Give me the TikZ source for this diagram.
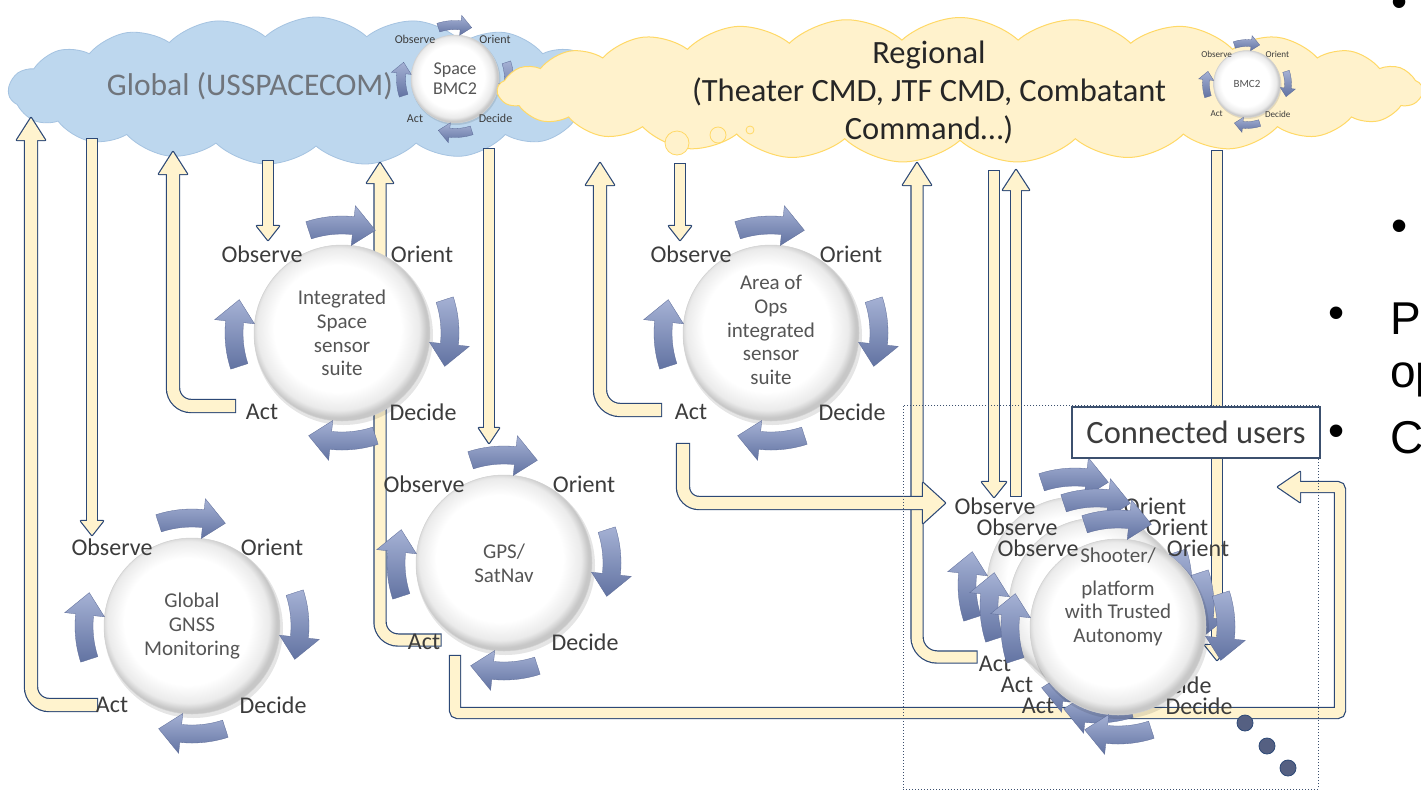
\documentclass[tikz,border=0pt]{standalone}
\usepackage{fontspec}
\setmainfont{Carlito}
\newfontfamily\arialfont{Liberation Sans}
\usetikzlibrary{shapes.symbols,calc}
\definecolor{cloudblue}{RGB}{189,215,238}
\definecolor{cloudblueedge}{RGB}{165,195,225}
\definecolor{cloudyel}{RGB}{255,242,204}
\definecolor{cloudyeledge}{RGB}{255,217,102}
\definecolor{cream}{RGB}{255,243,206}
\definecolor{navy}{RGB}{44,72,118}
\definecolor{arrL}{RGB}{165,177,212}
\definecolor{arrD}{RGB}{98,115,162}
\definecolor{arrE}{RGB}{90,105,150}
\definecolor{labelc}{RGB}{60,60,60}
\definecolor{centc}{RGB}{85,85,85}
\definecolor{globalc}{RGB}{112,117,124}
\definecolor{boxc}{RGB}{60,80,110}
\definecolor{dotc}{RGB}{85,96,130}
\pgfdeclareradialshading{ballw}{\pgfpoint{-2bp}{2bp}}{color(0bp)=(white); color(18bp)=(white); color(23bp)=(black!8); color(25bp)=(black!22); color(50bp)=(black!22)}

% curved OODA arrow around centre direction #1 (canvas degrees)
\newcommand\oarrow[1]{%
  \pgfmathsetmacro\aA{#1+18}%
  \pgfmathsetmacro\aB{#1-6}%
  \pgfmathsetmacro\aT{#1-18}%
  \shadedraw[top color=arrL, bottom color=arrD, draw=arrE, line width=0.3pt]
    (\aA:117pt) arc[start angle=\aA, end angle=\aB, radius=117pt]
    -- (\aB:128pt) -- (\aT:108pt) -- (\aB:88pt) -- (\aB:99pt)
    arc[start angle=\aB, end angle=\aA, radius=99pt] -- cycle;}

% loop graphics: x, y, scale
\newcommand\oodagfx[3]{%
  \begin{scope}[shift={(#1,#2)}, scale=#3]
    \fill[black, opacity=0.10] (1.5pt,-2.5pt) circle[radius=89.5pt];
    \shade[shading=ballw] (0,0) circle[radius=88pt];
    \draw[black!18, line width=0.5pt] (0,0) circle[radius=88pt];
    \foreach \c in {90,0,-90,180}{\oarrow{\c}}
  \end{scope}}

% loop labels: name, x, y, scale, centre text, centre font size, centre y offset
\newcommand\oodalbl[7]{%
  \begin{scope}[shift={(#2,#3)}, scale=#4]
    \pgfmathsetmacro\lfs{24*#4}%
    \pgfmathsetmacro\cbs{#6*1.13}%
    \node[lbl, font=\fontsize{\lfs}{\lfs}\selectfont] (#1-o) at (-80,-79) {Observe};
    \node[lbl, font=\fontsize{\lfs}{\lfs}\selectfont] (#1-r) at (80,-79) {Orient};
    \node[lbl, font=\fontsize{\lfs}{\lfs}\selectfont] (#1-a) at (-80,79) {Act};
    \node[lbl, font=\fontsize{\lfs}{\lfs}\selectfont] (#1-d) at (81,79) {Decide};
    \node[ctext, font=\fontsize{#6}{\cbs}\selectfont] (#1-c) at (0,#7) {#5};
  \end{scope}}

% block connector: path start, tip, direction angle, shaft width, head half width, head length, corner radius
\newcommand\barrow[7]{%
  \pgfmathsetmacro\bang{#3+180}%
  \pgfmathsetmacro\angp{#3+90}%
  \pgfmathsetmacro\angm{#3-90}%
  \pgfmathsetmacro\blen{#6-2}%
  \pgfmathsetmacro\owid{#4+2.4}%
  \pgfmathsetmacro\oshort{#4/2+1.2}%
  \pgfmathsetmacro\ishort{#4/2}%
  \coordinate (ht) at #2;
  \coordinate (hb) at ($(ht)+(\bang:\blen pt)$);
  \coordinate (h1) at ($(ht)+(\bang:#6pt)+(\angp:#5pt)$);
  \coordinate (h2) at ($(ht)+(\bang:#6pt)+(\angm:#5pt)$);
  \draw[navy, line width=\owid pt, line cap=rect, rounded corners=#7pt, shorten >=\oshort pt] #1 -- (hb);
  \filldraw[navy, line width=2.4pt, line join=round] (ht) -- (h1) -- (h2) -- cycle;
  \draw[cream, line width=#4pt, line cap=rect, rounded corners=#7pt, shorten >=\ishort pt] #1 -- (hb);
  \fill[cream] (ht) -- (h1) -- (h2) -- cycle;}

\begin{document}
\begin{tikzpicture}[x=1pt, y=-1pt,
  lbl/.style={text=labelc, inner sep=0pt},
  ctext/.style={align=center, text=centc, inner sep=0pt},
  bubble/.style={circle, draw=cloudyeledge, fill=cloudyel, line width=0.8pt, inner sep=0pt},
  bullet/.style={font=\arialfont\fontsize{46}{50}\selectfont, inner sep=0pt, text=black},
  sidetext/.style={font=\arialfont\fontsize{46}{50}\selectfont, inner sep=0pt, anchor=base west, text=black},
  dotn/.style={circle, fill=dotc, draw=navy, line width=0.8pt, minimum size=16pt, inner sep=0pt}]
\useasboundingbox (0,0) rectangle (1421,793);
\clip (0,0) rectangle (1421,793);
\fill[white] (0,0) rectangle (1421,793);

% global cloud
\node[cloud, cloud puffs=19, cloud puff arc=85, aspect=4.1, minimum width=615pt, minimum height=148pt,
      inner sep=0pt, fill=cloudblue, draw=cloudblueedge, line width=0.8pt] (globalcloud) at (316,91) {};
\node[text=globalc, font=\fontsize{31.5}{36}\selectfont, inner sep=0pt] (globaltxt) at (250,86) {Global (USSPACECOM)};
\oodagfx{455}{79}{0.5}

% regional cloud
\node[cloud, cloud puffs=25, cloud puff arc=85, aspect=6.4, minimum width=925pt, minimum height=145pt,
      inner sep=0pt, fill=cloudyel, draw=cloudyeledge, line width=1pt] (regcloud) at (960,90) {};
\node[bubble, minimum size=24pt] (bub1) at (677,143) {};
\node[bubble, minimum size=16pt] (bub2) at (718,135) {};
\node[bubble, minimum size=8pt] (bub3) at (750,130) {};
\node[align=center, text=black!85, font=\fontsize{32.5}{38}\selectfont, inner sep=0pt] (regtxt) at (929,92)
  {Regional\\(Theater CMD, JTF CMD, Combatant\\Command…)};
\oodalbl{sbmc}{455}{79}{0.5}{Space\\BMC2}{18}{0}
\oodagfx{1247}{84}{0.38}
\oodalbl{rbmc}{1247}{84}{0.38}{BMC2}{11}{0}

% connectors
\barrow{(91,705) -- (31,705)}{(31,118)}{90}{12}{14}{22}{18}
\barrow{(92,144)}{(92,535)}{-90}{10}{11}{14}{0}
\barrow{(229,406) -- (173,406)}{(173,152)}{90}{12}{14}{22}{18}
\barrow{(268,166)}{(268,240)}{-90}{10}{11}{14}{0}
\barrow{(435,640) -- (380,640)}{(380,163)}{90}{11}{13}{20}{18}
\barrow{(489,154)}{(489,443)}{-90}{10}{10}{15}{0}
\barrow{(971,657) -- (917,657)}{(917,163)}{90}{11}{14}{22}{20}
\barrow{(683,450) -- (683,503)}{(945,503)}{0}{12}{20}{22}{16}
\barrow{(655,410) -- (600,410)}{(600,163)}{90}{12}{14}{22}{20}
\barrow{(680,169)}{(680,240)}{-90}{10}{11}{14}{0}
\barrow{(994,176)}{(994,497)}{-90}{10}{12}{15}{0}
\barrow{(1016,491)}{(1016,170)}{90}{10}{13}{20}{0}
\barrow{(1217,156)}{(1217,660)}{-90}{10}{12}{15}{0}
\barrow{(455,661) -- (455,713) -- (1340,713) -- (1340,487)}{(1278,487)}{180}{10}{15}{22}{3}

% OODA loops
\oodagfx{342}{333}{1}
\oodalbl{isss}{342}{333}{1}{Integrated\\Space\\sensor\\suite}{21}{0}
\oodagfx{504}{563}{1}
\oodalbl{gps}{504}{563}{1}{GPS/\\SatNav}{21}{0}
\oodagfx{192}{626}{1}
\oodalbl{gnss}{192}{626}{1}{Global\\GNSS\\Monitoring}{21}{0}
\oodagfx{771}{333}{1}
\oodalbl{aops}{771}{333}{1}{Area of\\Ops\\integrated\\sensor\\suite}{21}{-3}
\oodagfx{1075}{585}{1}
\oodalbl{shA}{1075}{585}{1}{}{21}{0}
\oodagfx{1097}{606}{1}
\oodalbl{shB}{1097}{606}{1}{}{21}{0}
\oodagfx{1118}{627}{1}
\oodalbl{shC}{1118}{627}{1}{Shooter/\\[9pt]platform\\with Trusted\\Autonomy}{21}{-30}

% connected users region
\node[draw=boxc, dotted, line width=1pt, minimum width=415pt, minimum height=384pt, inner sep=0pt] (region) at (1110.5,597) {};
\node[draw=boxc, fill=white, line width=1.2pt, minimum width=248pt, minimum height=51pt, inner sep=0pt,
      font=\fontsize{32.5}{36}\selectfont, text=labelc] (cu) at (1196,432.5) {Connected users};
\node[dotn] (dot1) at (1245,723) {};
\node[dotn] (dot2) at (1267,746) {};
\node[dotn] (dot3) at (1288,768) {};

% slide text at right edge
\node[bullet] (b1) at (1400,7) {•};
\node[bullet] (b2) at (1400,231) {•};
\node[bullet] (b3) at (1337,318) {•};
\node[bullet] (b4) at (1337,436) {•};
\node[sidetext] (tP) at (1390,334) {P};
\node[sidetext] (top) at (1390,387) {op};
\node[sidetext] (tC) at (1390,453) {C};
\end{tikzpicture}
\end{document}
